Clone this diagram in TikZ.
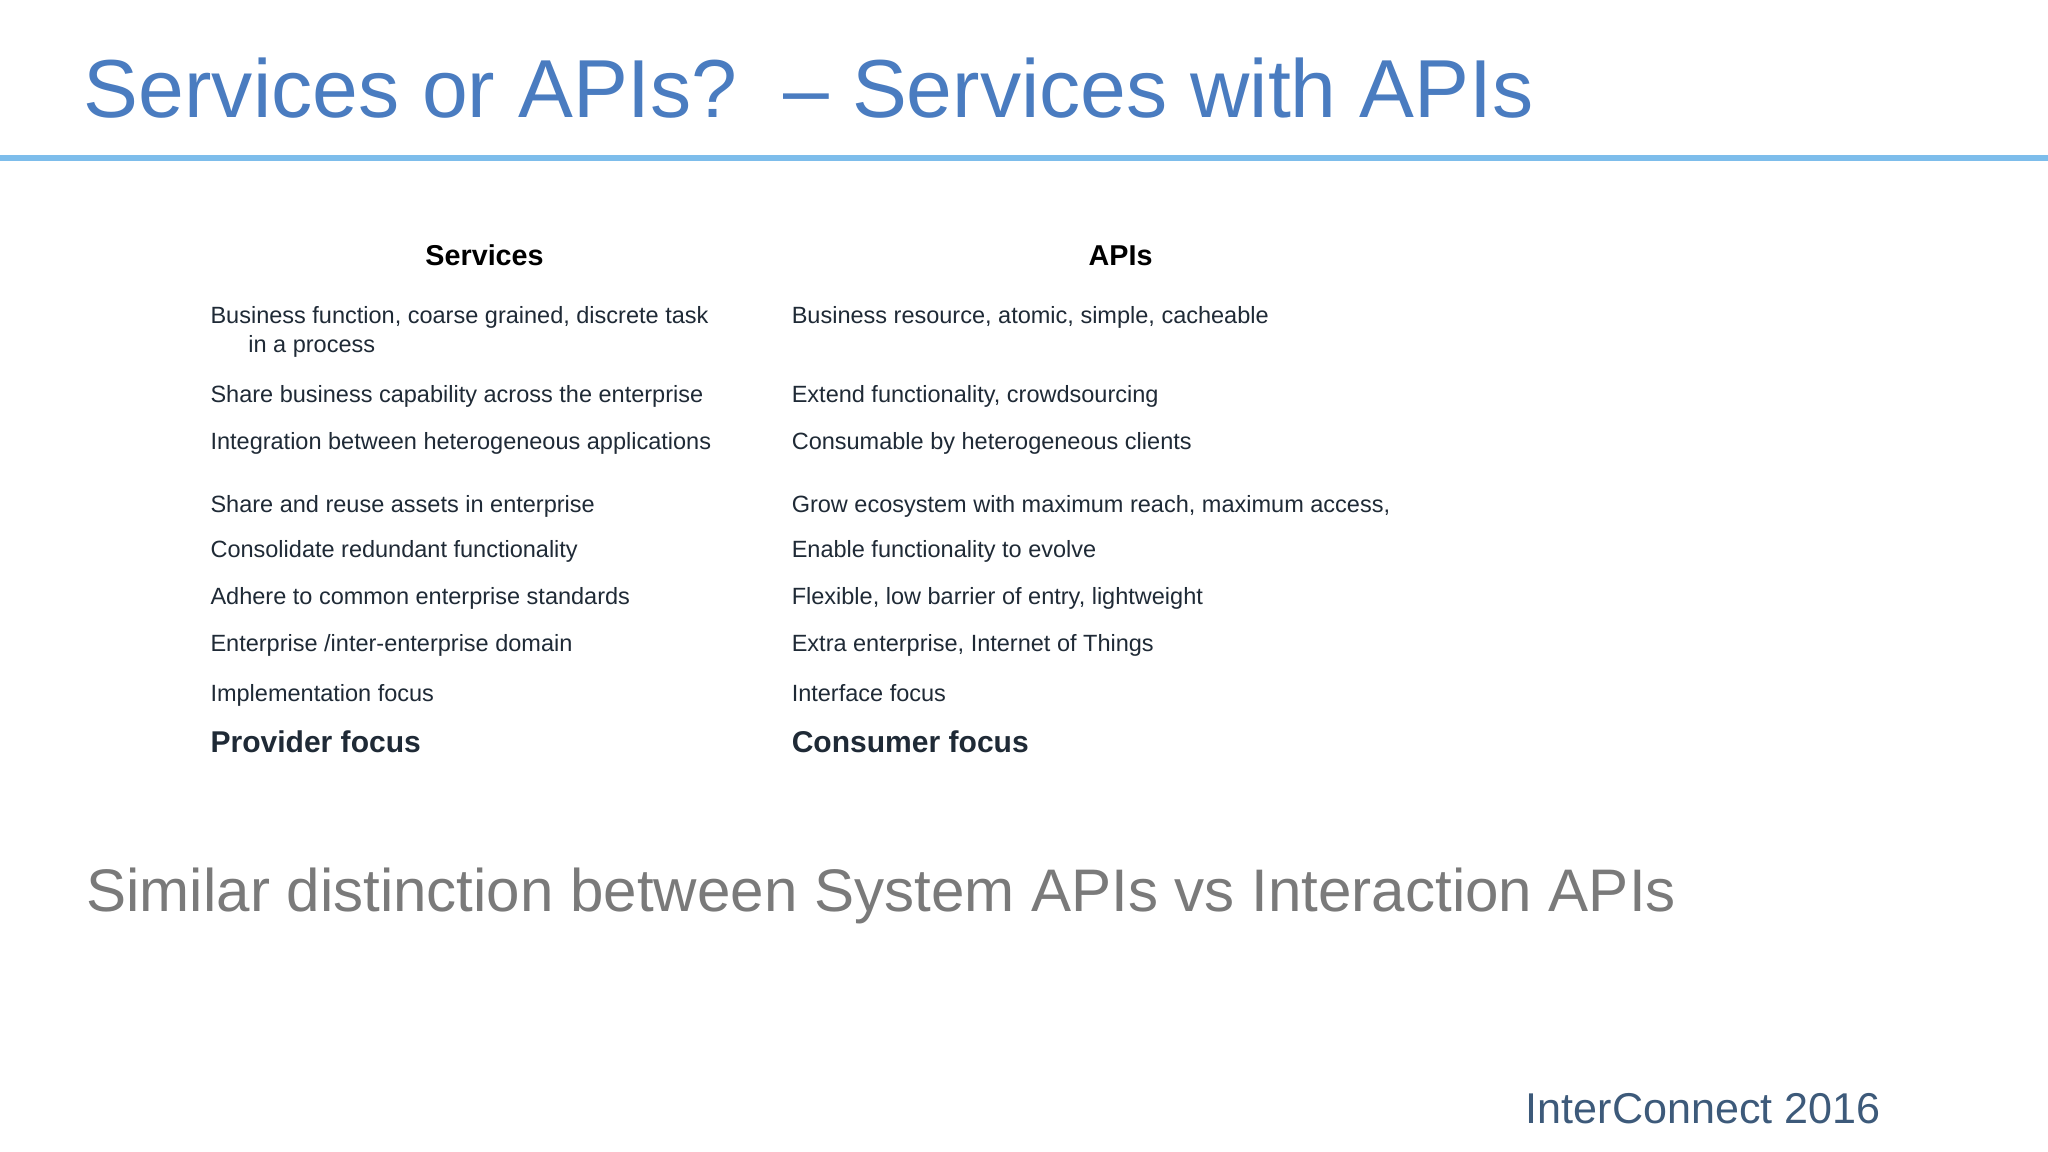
\documentclass[tikz,border=0pt]{standalone}
\usepackage{fontspec}
\setmainfont{Liberation Sans}
\definecolor{titleblue}{HTML}{4A7CC0}
\definecolor{rulblue}{HTML}{7DBDEB}
\definecolor{txt}{HTML}{1F2A36}
\definecolor{grayt}{HTML}{7A7A7A}
\definecolor{icblue}{HTML}{3D5A7A}
\begin{document}
\begin{tikzpicture}[x=1pt,y=-1pt,
  row/.style={anchor=base west,inner sep=0pt,text=txt,font=\fontsize{18}{22}\selectfont},
  head/.style={anchor=base,inner sep=0pt,text=black,font=\fontsize{22}{26}\selectfont\bfseries},
  foc/.style={anchor=base west,inner sep=0pt,text=txt,font=\fontsize{23}{27}\selectfont\bfseries}]
\useasboundingbox[fill=white] (0,0) rectangle (1568,882);
\node[anchor=base west,inner sep=0pt,text=titleblue,font=\fontsize{63}{70}\selectfont] (title) at (64,90) {Services or APIs?\ \ – Services with APIs};
\draw[rulblue,line width=4pt] (0,121) coordinate (l0) -- (1568,121) coordinate (l1);
\node[head] (hs) at (371,203) {Services};
\node[head] (ha) at (858,203) {APIs};
\node[row] (s1) at (161,248) {Business function, coarse grained, discrete task};
\node[row] (s1b) at (190,270) {in a process};
\node[row] (s2) at (161,308) {Share business capability across the enterprise};
\node[row] (s3) at (161,344) {Integration between heterogeneous applications};
\node[row] (s4) at (161,392) {Share and reuse assets in enterprise};
\node[row] (s5) at (161,427) {Consolidate redundant functionality};
\node[row] (s6) at (161,463) {Adhere to common enterprise standards};
\node[row] (s7) at (161,499) {Enterprise /inter-enterprise domain};
\node[row] (s8) at (161,537) {Implementation focus};
\node[foc] (s9) at (161,576) {Provider focus};
\node[row] (a1) at (606,248) {Business resource, atomic, simple, cacheable};
\node[row] (a2) at (606,308) {Extend functionality, crowdsourcing};
\node[row] (a3) at (606,344) {Consumable by heterogeneous clients};
\node[row] (a4) at (606,392) {Grow ecosystem with maximum reach, maximum access,};
\node[row] (a5) at (606,427) {Enable functionality to evolve};
\node[row] (a6) at (606,463) {Flexible, low barrier of entry, lightweight};
\node[row] (a7) at (606,499) {Extra enterprise, Internet of Things};
\node[row] (a8) at (606,537) {Interface focus};
\node[foc] (a9) at (606,576) {Consumer focus};
\node[anchor=base west,inner sep=0pt,text=grayt,font=\fontsize{46}{52}\selectfont] (sim) at (66,698) {Similar distinction between System APIs vs Interaction APIs};
\node[anchor=base east,inner sep=0pt,text=icblue,font=\fontsize{33}{38}\selectfont] (ic) at (1440,860) {InterConnect 2016};
\end{tikzpicture}
\end{document}
